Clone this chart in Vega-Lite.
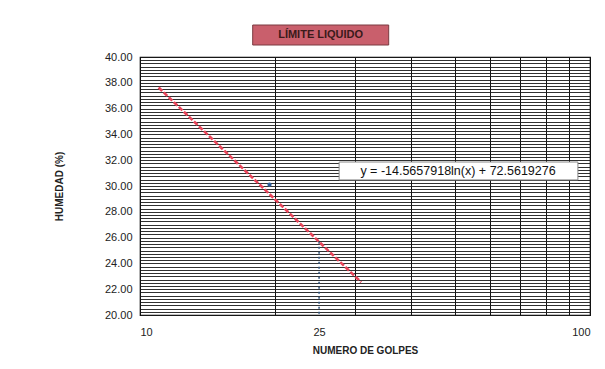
{
  "$schema": "https://vega.github.io/schema/vega-lite/v6.json",
  "width": 450,
  "height": 258,
  "autosize": {"type": "none"},
  "padding": {"left": 140, "top": 57, "right": 15, "bottom": 54},
  "background": "white",
  "config": {"view": {"stroke": "black", "strokeWidth": 1.2}, "font": "Liberation Sans"},
  "datasets": {
    "tendencia": [{"golpes": 11.0, "humedad": 37.635}, {"golpes": 31.0, "humedad": 22.543}],
    "ensayo": [{"golpes": 19.4, "humedad": 30.1}],
    "referencia": [{"golpes": 25, "humedad": 25.68}]
  },
  "layer": [
    {
      "data": {"name": "referencia"},
      "mark": {"type": "rule", "color": "#2b4f78", "strokeWidth": 1.5, "strokeDash": [2, 3]},
      "encoding": {
        "x": {
          "field": "golpes", "type": "quantitative",
          "scale": {"type": "log", "domain": [10, 100]},
          "axis": {
            "values": [10, 20, 25, 30, 40, 50, 60, 70, 80, 90, 100],
            "tickCount": 50,
            "labelExpr": "datum.value == 10 || datum.value == 25 || datum.value == 100 ? datum.value : ''",
            "grid": true,
            "gridColor": {"condition": {"test": "datum.value == 25", "value": "transparent"}, "value": "#111111"},
            "gridWidth": 1,
            "ticks": false,
            "domain": false,
            "labelOverlap": false,
            "labelPadding": 11,
            "labelFontSize": 11,
            "labelColor": "#222222",
            "title": "NUMERO DE GOLPES",
            "titleFontSize": 10,
            "titleFontWeight": "bold",
            "titleColor": "#222222",
            "titlePadding": 8
          }
        },
        "y": {
          "field": "humedad", "type": "quantitative",
          "scale": {"domain": [20, 40]},
          "axis": {
            "values": [20, 20.25, 20.5, 20.75, 21, 21.25, 21.5, 21.75, 22, 22.25, 22.5, 22.75, 23, 23.25, 23.5, 23.75, 24, 24.25, 24.5, 24.75, 25, 25.25, 25.5, 25.75, 26, 26.25, 26.5, 26.75, 27, 27.25, 27.5, 27.75, 28, 28.25, 28.5, 28.75, 29, 29.25, 29.5, 29.75, 30, 30.25, 30.5, 30.75, 31, 31.25, 31.5, 31.75, 32, 32.25, 32.5, 32.75, 33, 33.25, 33.5, 33.75, 34, 34.25, 34.5, 34.75, 35, 35.25, 35.5, 35.75, 36, 36.25, 36.5, 36.75, 37, 37.25, 37.5, 37.75, 38, 38.25, 38.5, 38.75, 39, 39.25, 39.5, 39.75, 40],
            "tickCount": 200,
            "labelExpr": "datum.value % 2 == 0 ? format(datum.value, '.2f') : ''",
            "grid": true,
            "gridColor": "#1a1a1a",
            "gridWidth": 0.9,
            "ticks": false,
            "domain": false,
            "labelOverlap": false,
            "labelPadding": 8,
            "labelFontSize": 11,
            "labelColor": "#222222",
            "title": "HUMEDAD (%)",
            "titleFontSize": 10,
            "titleFontWeight": "bold",
            "titleColor": "#222222",
            "titlePadding": 40
          }
        },
        "y2": {"datum": 20}
      }
    },
    {
      "data": {"name": "tendencia"},
      "mark": {"type": "line", "color": "#e8455a", "strokeWidth": 2.6, "strokeDash": [5, 2]},
      "encoding": {
        "x": {"field": "golpes", "type": "quantitative"},
        "y": {"field": "humedad", "type": "quantitative"}
      }
    },
    {
      "data": {"name": "ensayo"},
      "mark": {"type": "point", "filled": true, "color": "#2b5d9a", "size": 18, "opacity": 1},
      "encoding": {
        "x": {"field": "golpes", "type": "quantitative"},
        "y": {"field": "humedad", "type": "quantitative"}
      }
    },
    {
      "data": {"values": [{}]},
      "mark": {"type": "rect", "fill": "white", "stroke": "#8a8a8a", "strokeWidth": 1},
      "encoding": {
        "x": {"datum": 27.7}, "x2": {"datum": 94.0},
        "y": {"datum": 31.86}, "y2": {"datum": 30.47}
      }
    },
    {
      "data": {"values": [{}]},
      "mark": {"type": "text", "text": "y = -14.5657918ln(x) + 72.5619276", "fontSize": 12.5, "color": "#111111", "align": "center", "baseline": "middle"},
      "encoding": {"x": {"datum": 50.9}, "y": {"datum": 31.16}}
    },
    {
      "data": {"values": [{}]},
      "mark": {"type": "rect", "fill": "#c95f6c", "stroke": "#7a3a40", "strokeWidth": 1},
      "encoding": {
        "x": {"datum": 17.8}, "x2": {"datum": 35.7},
        "y": {"datum": 42.48}, "y2": {"datum": 40.93}
      }
    },
    {
      "data": {"values": [{}]},
      "mark": {"type": "text", "text": "LÍMITE LIQUIDO", "fontSize": 11, "fontWeight": "bold", "color": "#3a1a1a", "align": "center", "baseline": "middle"},
      "encoding": {"x": {"datum": 25.2}, "y": {"datum": 41.7}}
    }
  ]
}
